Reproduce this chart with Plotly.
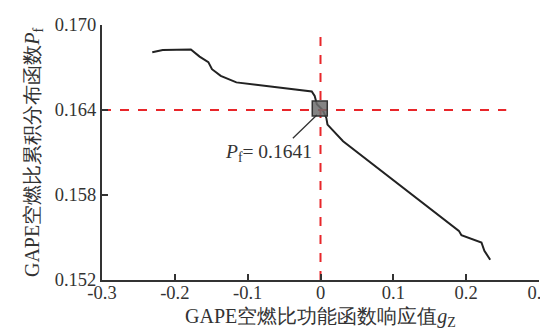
import plotly.graph_objects as go

gz = [-0.231, -0.2166, -0.178, -0.166, -0.154, -0.149, -0.137, -0.1155, -0.012, -0.008,
      -0.005, 0.003, 0.008, 0.0096, 0.031, 0.190, 0.1935, 0.221, 0.225, 0.233]
pf = [0.16808, 0.16824, 0.16827, 0.16777, 0.16738, 0.16688, 0.16641, 0.16595, 0.16531, 0.16500,
      0.16440, 0.16400, 0.16344, 0.16297, 0.16180, 0.15547, 0.15516, 0.15465, 0.15406, 0.15343]

pf_point_x = [-0.001]
pf_point_y = [0.1641]
ref_x = 0.0
ref_y = 0.164

x_ticks = [-0.3, -0.2, -0.1, 0, 0.1, 0.2, 0.3]
x_tick_labels = ["-0.3", "-0.2", "-0.1", "0", "0.1", "0.2", "0.3"]
y_ticks = [0.152, 0.158, 0.164, 0.170]
y_tick_labels = ["0.152", "0.158", "0.164", "0.170"]
x_title = "GAPE空燃比功能函数响应值<i>g</i><sub>Z</sub>"
y_title = "GAPE空燃比累积分布函数<i>P</i><sub>f</sub>"

serif = "Liberation Serif, Times New Roman, serif"
red = "#e8262a"

fig = go.Figure()
fig.add_trace(go.Scatter(x=gz, y=pf, mode="lines",
                         line=dict(color="#222", width=2), showlegend=False))
fig.add_trace(go.Scatter(x=[-0.3, 0.255], y=[ref_y, ref_y], mode="lines",
                         line=dict(color=red, width=2, dash="dash"), showlegend=False))
fig.add_trace(go.Scatter(x=[ref_x, ref_x], y=[0.152, 0.16977], mode="lines",
                         line=dict(color=red, width=2, dash="dash"), showlegend=False))
fig.add_trace(go.Scatter(x=pf_point_x, y=pf_point_y, mode="markers",
                         marker=dict(symbol="square", size=15, color="rgba(110,110,110,0.85)",
                                     line=dict(color="#333", width=1.5)),
                         showlegend=False))

fig.add_annotation(x=pf_point_x[0] - 0.004, y=pf_point_y[0] - 0.00045,
                   ax=-0.040, ay=0.16190, axref="x", ayref="y",
                   text="", showarrow=True, arrowhead=0, arrowwidth=1.3, arrowcolor="#333")
fig.add_annotation(x=-0.072, y=0.16098, xref="x", yref="y",
                   text="<i>P</i><sub>f</sub>= 0.1641", showarrow=False,
                   font=dict(family=serif, size=19.5, color="#333"))

# x-axis title placed as paper annotation so it sits fully inside the canvas
fig.add_annotation(x=0.5, y=-0.2, xref="paper", yref="paper",
                   xanchor="center", yanchor="bottom", showarrow=False, borderpad=0,
                   text=x_title, font=dict(family=serif, size=20, color="#333"))

axis_common = dict(showline=True, linecolor="#333", linewidth=2, ticks="inside",
                   ticklen=6, tickwidth=2, tickcolor="#333", showgrid=False, zeroline=False,
                   automargin=False,
                   tickfont=dict(family=serif, size=18.5, color="#333"))

fig.update_xaxes(range=[-0.3, 0.3], tickvals=x_ticks, ticktext=x_tick_labels,
                 ticklabelstandoff=-5, **axis_common)
fig.update_yaxes(range=[0.152, 0.170], tickvals=y_ticks, ticktext=y_tick_labels,
                 title=dict(text=y_title,
                            font=dict(family=serif, size=20, color="#333"), standoff=10),
                 **axis_common)

fig.update_layout(width=548, height=329, margin=dict(l=94, r=17, t=17, b=57),
                  plot_bgcolor="white", paper_bgcolor="white")

fig.write_html("out.html")
